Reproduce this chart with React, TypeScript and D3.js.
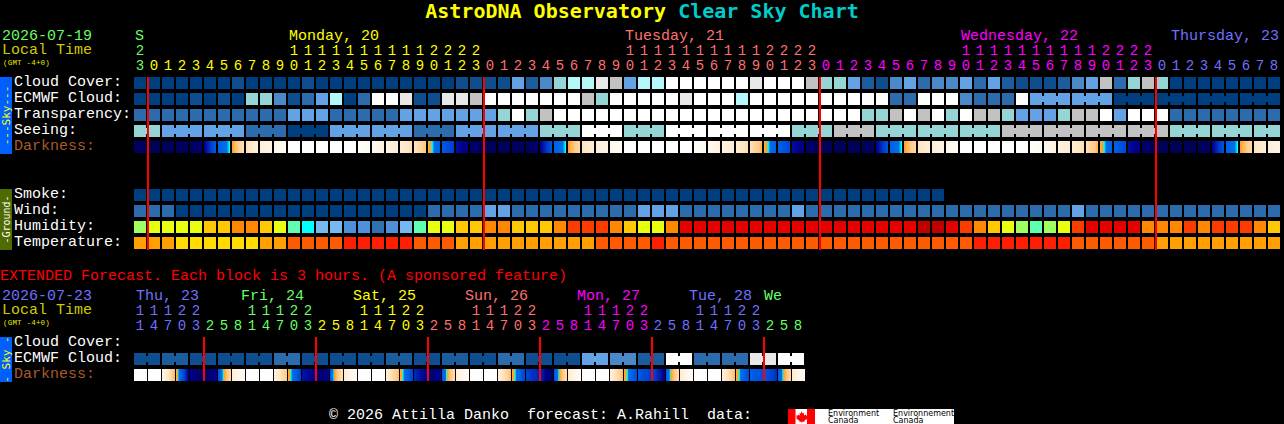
import { useEffect, useRef } from "react";
import * as d3 from "d3";

// sky levels, 0 = dark blue ... 10 = white
const cloudCover = [
  0, 0, 0, 0, 0, 0, 0, 1, 0, 0,
  0, 0, 1, 0, 0, 0, 0, 0, 0, 0,
  0, 0, 0, 1, 1, 1, 1, 5, 2, 4,
  6, 7, 7, 9, 8, 5, 7, 7, 10, 10,
  10, 10, 10, 10, 9, 10, 10, 10, 8, 6,
  6, 5, 2, 1, 4, 5, 3, 4, 4, 5,
  3, 5, 2, 1, 1, 1, 2, 4, 5, 8,
  3, 6, 8, 6, 0, 0, 0, 0, 0, 0,
  0, 0,
];
const ecmwfCloud = [
  0, 0, 0, 0, 1, 0, 1, 0, 6, 6,
  4, 1, 3, 5, 7, 0, 3, 10, 10, 9,
  1, 1, 9, 9, 8, 10, 10, 10, 10, 10,
  10, 10, 8, 6, 10, 10, 10, 10, 10, 9,
  10, 10, 10, 7, 10, 10, 10, 10, 10, 10,
  10, 10, 10, 10, 3, 3, 10, 10, 10, 4,
  3, 3, 3, 10, 5, 5, 5, 5, 5, 5,
  0, 0, 0, 0, 0, 0, 0, 0, 0, 0,
  0, 0,
];
const transparency = [
  3, 3, 3, 3, 3, 3, 3, 3, 3, 3,
  3, 5, 5, 5, 3, 3, 3, 3, 3, 5,
  5, 5, 5, 5, 5, 5, 6, 10, 6, 8,
  10, 10, 10, 10, 10, 10, 10, 10, 10, 10,
  10, 10, 10, 10, 10, 10, 10, 10, 10, 10,
  10, 10, 6, 6, 8, 10, 8, 10, 6, 10,
  8, 8, 6, 5, 5, 5, 6, 8, 8, 10,
  5, 10, 10, 10, 3, 3, 3, 3, 3, 3,
  3, 3,
];
const seeing = [
  6, 6, 5, 5, 5, 5, 5, 5, 3, 3,
  3, 0, 0, 0, 5, 5, 5, 5, 5, 5,
  3, 3, 3, 5, 5, 5, 5, 5, 5, 6,
  6, 6, 10, 10, 10, 6, 6, 6, 10, 10,
  10, 10, 10, 10, 10, 10, 10, 6, 6, 6,
  8, 8, 8, 6, 6, 6, 6, 6, 6, 6,
  6, 6, 8, 8, 8, 8, 8, 8, 8, 8,
  8, 8, 8, 8, 6, 6, 6, 6, 6, 6,
  6, 6,
];
const smoke = [
  0, 0, 0, 0, 0, 0, 0, 0, 0, 0,
  0, 0, 0, 0, 0, 0, 0, 0, 0, 0,
  0, 0, 0, 0, 0, 0, 0, 0, 0, 0,
  0, 0, 0, 0, 0, 0, 0, 0, 0, 0,
  0, 0, 0, 0, 0, 0, 0, 0, 0, 0,
  0, 0, 0, 0, 0, 0, 0, 0,
];
const wind = [
  3, 3, 3, 0, 0, 0, 0, 0, 0, 0,
  0, 0, 0, 0, 0, 0, 0, 0, 0, 0,
  0, 3, 3, 3, 3, 5, 5, 3, 3, 3,
  3, 3, 3, 3, 3, 3, 5, 5, 5, 3,
  3, 3, 3, 3, 3, 3, 3, 5, 3, 3,
  3, 3, 3, 3, 3, 3, 3, 3, 3, 3,
  3, 3, 3, 3, 3, 3, 3, 5, 3, 3,
  3, 3, 3, 3, 3, 3, 3, 3, 3, 3,
  3, 3,
];
const humidity = [
  5, 6, 6, 6, 6, 7, 7, 8, 8, 7,
  6, 4, 3, 2, 2, 1, 1, 0, 1, 2,
  4, 6, 6, 7, 7, 8, 8, 7, 7, 7,
  8, 9, 9, 9, 8, 7, 6, 6, 8, 10,
  10, 10, 10, 10, 10, 10, 10, 10, 10, 10,
  10, 10, 10, 10, 10, 10, 11, 11, 10, 9,
  8, 7, 6, 5, 4, 5, 6, 9, 10, 10,
  10, 10, 8, 8, 8, 9, 8, 9, 9, 9,
  8, 7,
];
const temperature = [
  1, 1, 1, 0, 0, 0, 0, 0, 0, 1,
  1, 2, 2, 2, 2, 3, 3, 3, 3, 3,
  2, 2, 2, 1, 1, 1, 1, 1, 1, 1,
  1, 1, 1, 2, 2, 2, 2, 3, 2, 2,
  2, 2, 2, 2, 2, 2, 2, 2, 2, 2,
  2, 2, 2, 2, 2, 2, 2, 2, 2, 2,
  3, 3, 3, 3, 3, 3, 3, 2, 2, 2,
  2, 2, 2, 1, 1, 1, 1, 1, 1, 1,
  1, 1,
];
// darkness at the left and right edge of each block, 0 = night, 1 = full day
const darkStart = [
  0.1, 0.05, 0.08, 0.08, 0.1, 0.2, 0.38, 0.48, 0.66, 0.78,
  0.85, 1, 1, 1, 1, 1, 0.98, 0.88, 0.82, 0.75,
  0.68, 0.5, 0.36, 0.22, 0.12, 0.08, 0.08, 0.08, 0.1, 0.2,
  0.38, 0.48, 0.68, 0.78, 0.85, 1, 1, 1, 1, 1,
  0.97, 0.88, 0.8, 0.74, 0.66, 0.5, 0.38, 0.22, 0.12, 0.07,
  0.07, 0.07, 0.09, 0.2, 0.38, 0.48, 0.68, 0.78, 0.85, 1,
  1, 1, 1, 1, 0.97, 0.88, 0.8, 0.74, 0.66, 0.5,
  0.38, 0.22, 0.12, 0.08, 0.06, 0.06, 0.09, 0.2, 0.38, 0.48,
  0.68, 0.78,
];
const darkEnd = [
  0.1, 0.05, 0.08, 0.08, 0.12, 0.36, 0.46, 0.66, 0.78, 0.82,
  0.95, 1, 1, 1, 1, 1, 0.9, 0.8, 0.76, 0.66,
  0.55, 0.38, 0.3, 0.18, 0.1, 0.08, 0.08, 0.08, 0.12, 0.34,
  0.46, 0.62, 0.76, 0.82, 0.95, 1, 1, 1, 1, 1,
  0.9, 0.8, 0.74, 0.66, 0.52, 0.38, 0.32, 0.18, 0.1, 0.07,
  0.07, 0.07, 0.1, 0.34, 0.46, 0.62, 0.76, 0.82, 0.95, 1,
  1, 1, 1, 1, 0.9, 0.8, 0.74, 0.66, 0.52, 0.38,
  0.32, 0.18, 0.1, 0.07, 0.06, 0.06, 0.1, 0.34, 0.46, 0.62,
  0.76, 0.82,
];
const extEcmwf = [
  1, 1, 2, 2, 1, 1, 1, 1, 1, 1,
  3, 3, 1, 1, 1, 1, 1, 1, 2, 2,
  1, 1, 2, 2, 1, 1, 3, 3, 1, 1,
  1, 1, 5, 5, 4, 4, 2, 2, 10, 10,
  3, 3, 3, 3, 9, 9, 10, 10,
];
const extDarkStart = [
  1, 1, 0.85, 0.5, 0.2, 0.1, 0.36, 0.78, 1, 1,
  0.78, 0.5, 0.23, 0.1, 0.38, 0.75, 1, 1, 0.75, 0.5,
  0.26, 0.12, 0.37, 0.78, 1, 1, 0.78, 0.5, 0.3, 0.27,
  0.36, 0.75, 1, 1, 0.78, 0.5, 0.36, 0.32, 0.38, 0.75,
  1, 1, 0.78, 0.5, 0.38, 0.36, 0.37, 0.75,
];
const extDarkEnd = [
  1, 1, 0.55, 0.22, 0.1, 0.2, 0.6, 0.88, 1, 1,
  0.58, 0.32, 0.2, 0.2, 0.65, 0.9, 1, 1, 0.55, 0.32,
  0.2, 0.2, 0.62, 0.92, 1, 1, 0.55, 0.33, 0.26, 0.12,
  0.62, 0.92, 1, 1, 0.55, 0.34, 0.3, 0.2, 0.62, 0.92,
  1, 1, 0.55, 0.34, 0.34, 0.28, 0.6, 0.9,
];

const skyRows = ["Cloud Cover:", "ECMWF Cloud:", "Transparency:", "Seeing:", "Darkness:"];
const groundRows = ["Smoke:", "Wind:", "Humidity:", "Temperature:"];
const extRows = ["Cloud Cover:", "ECMWF Cloud:", "Darkness:"];

// hour labels, first block is 23h on the 19th
const hours = [23, ...d3.range(0, 24), ...d3.range(0, 24), ...d3.range(0, 24), ...d3.range(0, 9)];
const hourDayIndex = hours.map((_, i) => (i === 0 ? 0 : 1 + Math.floor((i - 1) / 24)));
const extHours = [
  11, 14, 17, 20, 23, 2, 5, 8, 11, 14, 17, 20, 23, 2, 5, 8, 11, 14, 17, 20, 23, 2, 5, 8,
  11, 14, 17, 20, 23, 2, 5, 8, 11, 14, 17, 20, 23, 2, 5, 8, 11, 14, 17, 20, 23, 2, 5, 8,
];
const extDayIndex = extHours.map((_, i) => (i < 5 ? 0 : 1 + Math.floor((i - 5) / 8)));
const dayColors = ["#66ff66", "#ffff00", "#ff7070", "#ff00ff", "#7070ff"];

const dayNames = ["S", "Monday, 20", "Tuesday, 21", "Wednesday, 22", "Thursday, 23"];
const dayCols = [0, 11, 35, 59, 74];
const extDayNames = ["Thu, 23", "Fri, 24", "Sat, 25", "Sun, 26", "Mon, 27", "Tue, 28", "We"];
const extDayCols = [0, 8, 16, 24, 32, 40, 45];
const extDayColors = ["#7070ff", "#66ff66", "#ffff00", "#ff7070", "#ff00ff", "#7070ff", "#66ff66"];
const midnightCols = [1, 25, 49, 73];
const extMidnightCols = [5, 13, 21, 29, 37, 45];

const skyPalette = [
  "#003f7f", "#0f4e8e", "#1b5c9c", "#2c6cad", "#4a88c8", "#63a3e5",
  "#95d5d5", "#b4f8fc", "#c2c2c2", "#e8e8e8", "#ffffff",
];
const humidityPalette = [
  "#3070b0", "#5090d8", "#78b8f0", "#00ffff", "#60ffb0", "#a0ff60",
  "#e8ff10", "#ffc800", "#ff8800", "#ff3c00", "#e60000", "#c00000",
];
const temperaturePalette = ["#ffdc00", "#ffa000", "#ff5a00", "#ff1e00"];

const MONO = "'Liberation Mono', 'DejaVu Sans Mono', monospace";

const App = () => {
  const chartRef = useRef<HTMLDivElement>(null);

  useEffect(() => {
    document.body.style.margin = "0";
    document.body.style.background = "#000";

    const svg = d3
      .select(chartRef.current)
      .append("svg")
      .attr("width", 1284)
      .attr("height", 424)
      .style("display", "block")
      .style("background", "#000");

    const x = d3.scaleBand<number>().domain(d3.range(82)).range([134, 1280]).paddingInner(2 / 14);
    const xExt = d3.scaleBand<number>().domain(d3.range(48)).range([134, 804]).paddingInner(2 / 14);
    const ySky = d3.scaleBand<string>().domain(skyRows).range([77, 153]).paddingInner(4 / 16);
    const yGround = d3.scaleBand<string>().domain(groundRows).range([189, 249]).paddingInner(4 / 16);
    const yExt = d3.scaleBand<string>().domain(extRows).range([337, 381]).paddingInner(4 / 16);

    const skyColor = d3.scaleOrdinal<number, string>().domain(d3.range(11)).range(skyPalette);
    const humidityColor = d3.scaleOrdinal<number, string>().domain(d3.range(12)).range(humidityPalette);
    const temperatureColor = d3.scaleOrdinal<number, string>().domain(d3.range(4)).range(temperaturePalette);
    const darkColor = d3
      .scaleLinear<string>()
      .domain([0, 0.1, 0.2, 0.3, 0.38, 0.44, 0.46, 0.48, 0.55, 0.7, 0.85, 1])
      .range([
        "#000048", "#000060", "#000090", "#0040d0", "#0060e8", "#0070e8",
        "#00ffff", "#ffa020", "#ffc880", "#ffe8c8", "#fff6ea", "#ffffff",
      ]);

    const cells = svg.append("g").attr("shape-rendering", "crispEdges");

    const drawRow = (
      values: number[],
      color: (v: number) => string,
      xs: d3.ScaleBand<number>,
      y: number,
      h: number,
    ) => {
      cells
        .append("g")
        .selectAll("rect")
        .data(values)
        .join("rect")
        .attr("x", (_, i) => xs(i)!)
        .attr("y", y)
        .attr("width", xs.bandwidth())
        .attr("height", h)
        .attr("fill", (d) => color(d));
    };

    // small bridge between blocks of the same forecast step
    const drawBridges = (
      values: number[],
      color: (v: number) => string,
      xs: d3.ScaleBand<number>,
      y: number,
      cols: number[],
    ) => {
      cells
        .append("g")
        .selectAll("rect")
        .data(cols)
        .join("rect")
        .attr("x", (c) => xs(c)! + xs.bandwidth())
        .attr("y", y + 3)
        .attr("width", xs.step() - xs.bandwidth())
        .attr("height", 6)
        .attr("fill", (c) => color(values[c]));
    };

    const drawDarkness = (
      starts: number[],
      ends: number[],
      xs: d3.ScaleBand<number>,
      y: number,
      h: number,
    ) => {
      const w = xs.bandwidth();
      const strips = d3.range(w);
      starts.forEach((start, i) => {
        const t = d3.scaleLinear().domain([0, w - 1]).range([start, ends[i]]);
        cells
          .append("g")
          .selectAll("rect")
          .data(strips)
          .join("rect")
          .attr("x", (p) => xs(i)! + p)
          .attr("y", y)
          .attr("width", 1)
          .attr("height", h)
          .attr("fill", (p) => darkColor(t(p)));
      });
    };

    const skyH = ySky.bandwidth();
    drawRow(cloudCover, skyColor, x, ySky("Cloud Cover:")!, skyH);
    drawRow(ecmwfCloud, skyColor, x, ySky("ECMWF Cloud:")!, skyH);
    drawRow(transparency, skyColor, x, ySky("Transparency:")!, skyH);
    drawRow(seeing, skyColor, x, ySky("Seeing:")!, skyH);
    drawDarkness(darkStart, darkEnd, x, ySky("Darkness:")!, skyH);
    drawRow(smoke, skyColor, x, yGround("Smoke:")!, skyH);
    drawRow(wind, skyColor, x, yGround("Wind:")!, skyH);
    drawRow(humidity, humidityColor, x, yGround("Humidity:")!, skyH);
    drawRow(temperature, temperatureColor, x, yGround("Temperature:")!, skyH);

    // seeing is a 3 hour forecast, so is the late ECMWF
    const seeingJoin = d3.range(81).filter((c) => c === 0 || (c >= 2 && (c - 2) % 3 !== 2));
    drawBridges(seeing, skyColor, x, ySky("Seeing:")!, seeingJoin);
    const ecmwfJoin = d3.range(64, 81).filter((c) => (c - 64) % 3 !== 2);
    drawBridges(ecmwfCloud, skyColor, x, ySky("ECMWF Cloud:")!, ecmwfJoin);

    drawRow(extEcmwf, skyColor, xExt, yExt("ECMWF Cloud:")!, skyH);
    drawBridges(extEcmwf, skyColor, xExt, yExt("ECMWF Cloud:")!, d3.range(0, 47, 2));
    drawDarkness(extDarkStart, extDarkEnd, xExt, yExt("Darkness:")!, skyH);

    // midnight markers
    cells
      .append("g")
      .selectAll("rect")
      .data(midnightCols)
      .join("rect")
      .attr("x", (c) => x(c)! - 1)
      .attr("y", 77)
      .attr("width", 2)
      .attr("height", 173)
      .attr("fill", "#ff0000");
    cells
      .append("g")
      .selectAll("rect")
      .data(extMidnightCols)
      .join("rect")
      .attr("x", (c) => xExt(c)! - 1)
      .attr("y", 337)
      .attr("width", 2)
      .attr("height", 44)
      .attr("fill", "#ff0000");

    const text = (
      s: string,
      tx: number,
      ty: number,
      fill: string,
      size = 15,
      anchor = "start",
    ) =>
      svg
        .append("text")
        .attr("x", tx)
        .attr("y", ty)
        .attr("fill", fill)
        .attr("font-family", MONO)
        .attr("font-size", size)
        .attr("text-anchor", anchor)
        .style("white-space", "pre")
        .text(s);

    const sideText = (s: string, cx: number, cy: number, fill: string, size: number) =>
      svg
        .append("text")
        .attr("transform", `translate(${cx},${cy}) rotate(-90)`)
        .attr("fill", fill)
        .attr("font-family", "'DejaVu Sans Mono', monospace")
        .attr("font-size", size)
        .attr("text-anchor", "middle")
        .attr("dominant-baseline", "central")
        .style("white-space", "pre")
        .text(s);

    // title
    const title = svg
      .append("text")
      .attr("x", 642)
      .attr("y", 18)
      .attr("text-anchor", "middle")
      .attr("font-family", "'DejaVu Sans Mono', monospace")
      .attr("font-size", 20)
      .attr("font-weight", "bold")
      .style("white-space", "pre");
    title.append("tspan").attr("fill", "#ffff00").text("AstroDNA Observatory ");
    title.append("tspan").attr("fill", "#00cccc").text("Clear Sky Chart");

    // top header
    text("2026-07-19", 2, 40, "#66ff66");
    text("Local Time", 2, 54, "#cccc00");
    text("(GMT -4+0)", 3, 65, "#e6e600", 7.5).attr("letter-spacing", 0.2);
    dayNames.forEach((d, i) => {
      text(d, x(dayCols[i])! + 1, 40, dayColors[i]);
    });
    hours.forEach((h, i) => {
      const cx = x(i)! + x.bandwidth() / 2;
      const fill = dayColors[hourDayIndex[i]];
      if (h >= 10 && i <= 72) text(String(h)[0], cx, 55, fill, 14, "middle");
      text(String(h % 10), cx, 69.5, fill, 14, "middle");
    });

    // row labels
    skyRows.forEach((r) => {
      text(r, 14, ySky(r)! + 8.5, r === "Darkness:" ? "#a85a2a" : "#ffffff");
    });
    groundRows.forEach((r) => {
      text(r, 14, yGround(r)! + 8.5, "#ffffff");
    });
    extRows.forEach((r) => {
      text(r, 14, yExt(r)! + 8.5, r === "Darkness:" ? "#a85a2a" : "#ffffff");
    });

    // side bars
    const bars = [
      { y0: 77, y1: 154, fill: "#0060ff" },
      { y0: 189, y1: 250, fill: "#4f6a00" },
      { y0: 337, y1: 382, fill: "#0060ff" },
    ];
    cells
      .append("g")
      .selectAll("rect")
      .data(bars)
      .join("rect")
      .attr("x", 0)
      .attr("y", (d) => d.y0)
      .attr("width", 12)
      .attr("height", (d) => d.y1 - d.y0)
      .attr("fill", (d) => d.fill);
    sideText("---Sky---", 6, 115.5, "#ffff00", 11);
    sideText("-Ground-", 6, 219.5, "#ffffff", 10);
    sideText("- Sky -", 6, 359.5, "#ffff00", 11);

    // extended section
    text("EXTENDED Forecast. Each block is 3 hours. (A sponsored feature)", 0, 280, "#ff0000");
    text("2026-07-23", 2, 300, "#7070ff");
    text("Local Time", 2, 314, "#cccc00");
    text("(GMT -4+0)", 3, 325, "#e6e600", 7.5).attr("letter-spacing", 0.2);
    extDayNames.forEach((d, i) => {
      const shift = i === 0 ? 2 : i === 6 ? 0 : -5;
      text(d, xExt(extDayCols[i])! + shift, 300, extDayColors[i]);
    });
    extHours.forEach((h, i) => {
      const cx = xExt(i)! + xExt.bandwidth() / 2;
      const fill = extDayColors[extDayIndex[i]];
      if (h >= 10) text(String(h)[0], cx, 315, fill, 14, "middle");
      text(String(h % 10), cx, 330, fill, 14, "middle");
    });

    // footer
    text("\u00a9 2026 Attilla Danko  forecast: A.Rahill  data:", 329, 419.4, "#ffffff");
    const logo = svg.append("g");
    logo.append("rect").attr("x", 788).attr("y", 409).attr("width", 166).attr("height", 15).attr("fill", "#fff");
    logo.append("rect").attr("x", 788).attr("y", 409).attr("width", 7.5).attr("height", 15).attr("fill", "#ff0000");
    logo.append("rect").attr("x", 807).attr("y", 409).attr("width", 8).attr("height", 15).attr("fill", "#ff0000");
    logo
      .append("path")
      .attr("d", "M801.3 411l1.4 2.4 1.6-.6-.5 2.8 1.9-1.2.6 1.4 1.4-.2-.8 2.4.8.6-3.4 2.2.2 1h-2.4v1.4h-.4v-1.4h-2.4l.2-1-3.4-2.2.8-.6-.8-2.4 1.4.2.6-1.4 1.9 1.2-.5-2.8 1.6.6z")
      .attr("fill", "#ff0000");
    [
      ["Environment", 828],
      ["Environnement", 893],
    ].forEach(([s, lx]) => {
      logo
        .append("text")
        .attr("x", lx as number)
        .attr("y", 416)
        .attr("font-family", "'DejaVu Sans', sans-serif")
        .attr("font-size", 8)
        .attr("fill", "#000")
        .text(s as string);
      logo
        .append("text")
        .attr("x", lx as number)
        .attr("y", 422.5)
        .attr("font-family", "'DejaVu Sans', sans-serif")
        .attr("font-size", 8)
        .attr("fill", "#000")
        .text("Canada");
    });

    return () => {
      d3.select(chartRef.current).selectAll("*").remove();
    };
  }, []);

  return <div ref={chartRef}></div>;
};

export default App;
